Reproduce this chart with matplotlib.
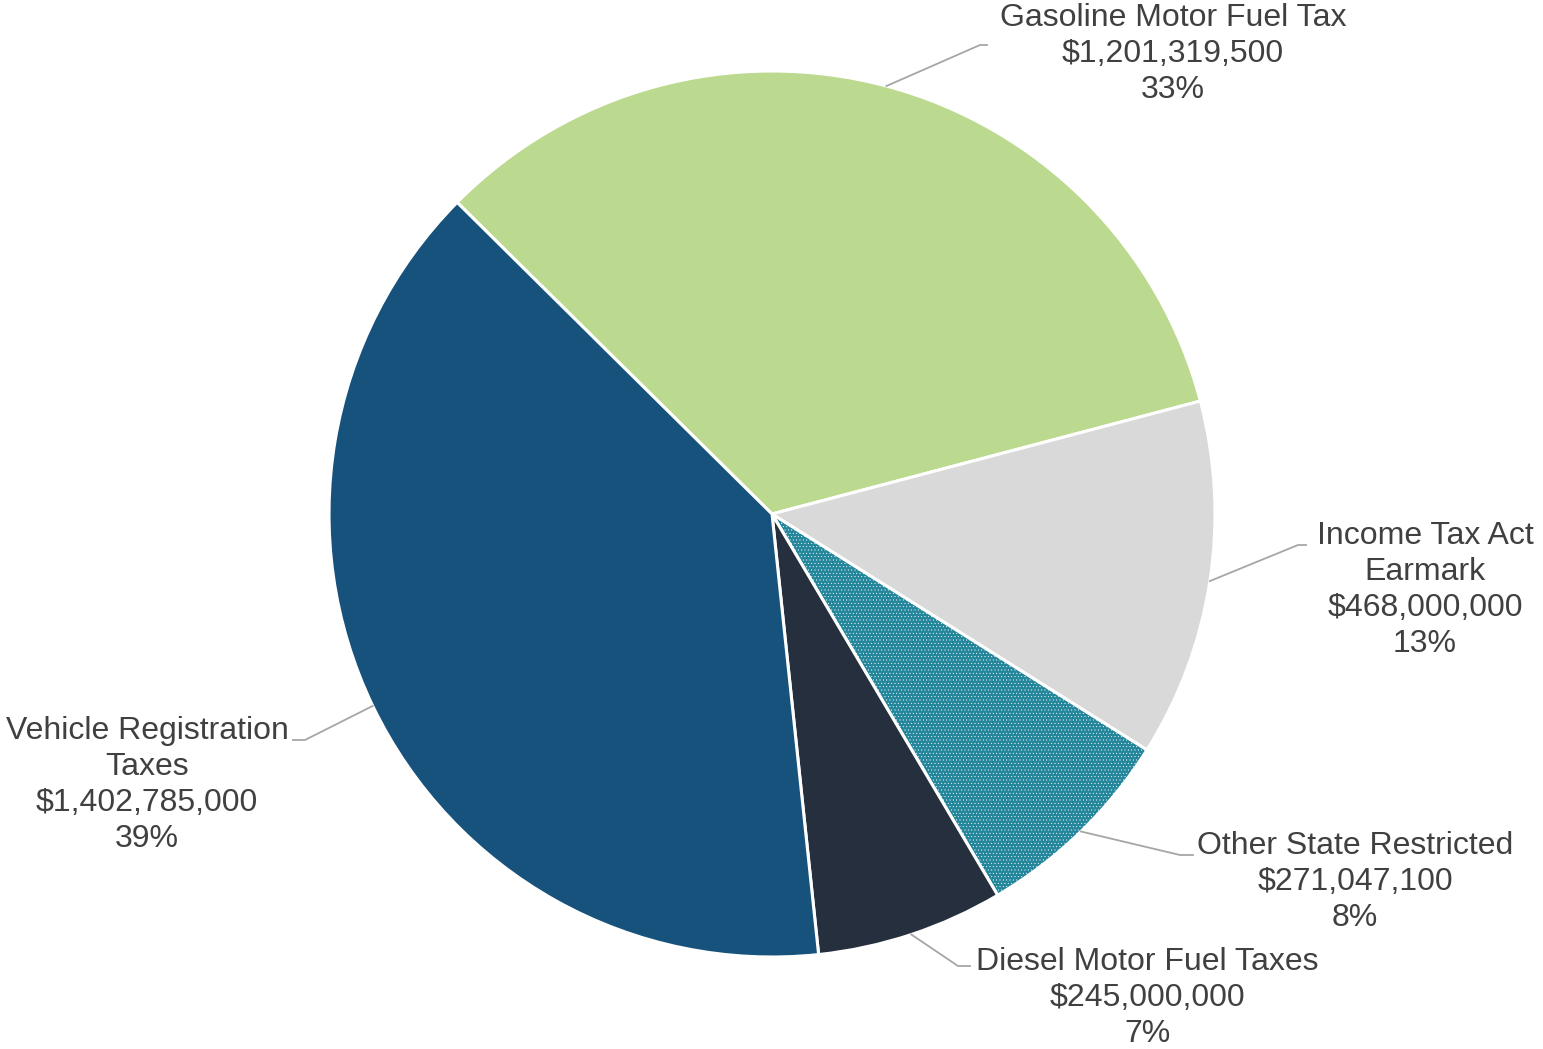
import matplotlib.pyplot as plt
import numpy as np

plt.rcParams['font.family'] = ['Liberation Sans', 'DejaVu Sans']
plt.rcParams['hatch.linewidth'] = 0.3

# Revenue sources (clockwise from the top-left slice)
names = ['Gasoline Motor Fuel Tax', 'Income Tax Act\nEarmark', 'Other State Restricted',
         'Diesel Motor Fuel Taxes', 'Vehicle Registration\nTaxes']
amounts = [1201319500, 468000000, 271047100, 245000000, 1402785000]
colors = ['#BBDA8F', '#D9D9D9', '#23869A', '#262F3D', '#17527C']
hatches = [None, None, '.....', None, None]

# label layout in pixel coords: text centre, elbow point, line end
W, H = 1543, 1049
label_pos = [(1173, 54), (1425, 590), (1355, 882), (1147, 998), (147, 785)]
elbows = [(980, 45), (1298, 545), (1180, 855), (958, 966), (305, 740)]
ends = [(987, 45), (1306, 545), (1193, 855), (970, 966), (293, 740)]

fig = plt.figure(figsize=(W / 100, H / 100), dpi=100)
ax = fig.add_axes([0, 0, 1, 1])

cx, cy, r = 772, H - 514, 443
wedges, _ = ax.pie(amounts, colors=colors, startangle=135.3, counterclock=False,
                   center=(cx, cy), radius=r,
                   wedgeprops=dict(edgecolor='white', linewidth=2.2))
for w, h in zip(wedges, hatches):
    if h:
        w.set_hatch(h)

total = sum(amounts)
for w, name, amt, (tx, ty), (bx, by), (ex, ey) in zip(wedges, names, amounts, label_pos, elbows, ends):
    mid = np.deg2rad((w.theta1 + w.theta2) / 2)
    sx, sy = cx + r * np.cos(mid), cy + r * np.sin(mid)
    ax.plot([sx, bx, ex], [sy, H - by, H - ey], color='#A6A6A6', lw=1.3)
    txt = '%s\n$%s\n%d%%' % (name, format(amt, ','), round(100 * amt / total))
    ax.text(tx, H - ty, txt, ha='center', va='center', fontsize=23,
            color='#404040', linespacing=1.26)

ax.set_xlim(0, W)
ax.set_ylim(0, H)
ax.set_aspect('equal')
ax.axis('off')

plt.savefig('out.png', dpi=100)
